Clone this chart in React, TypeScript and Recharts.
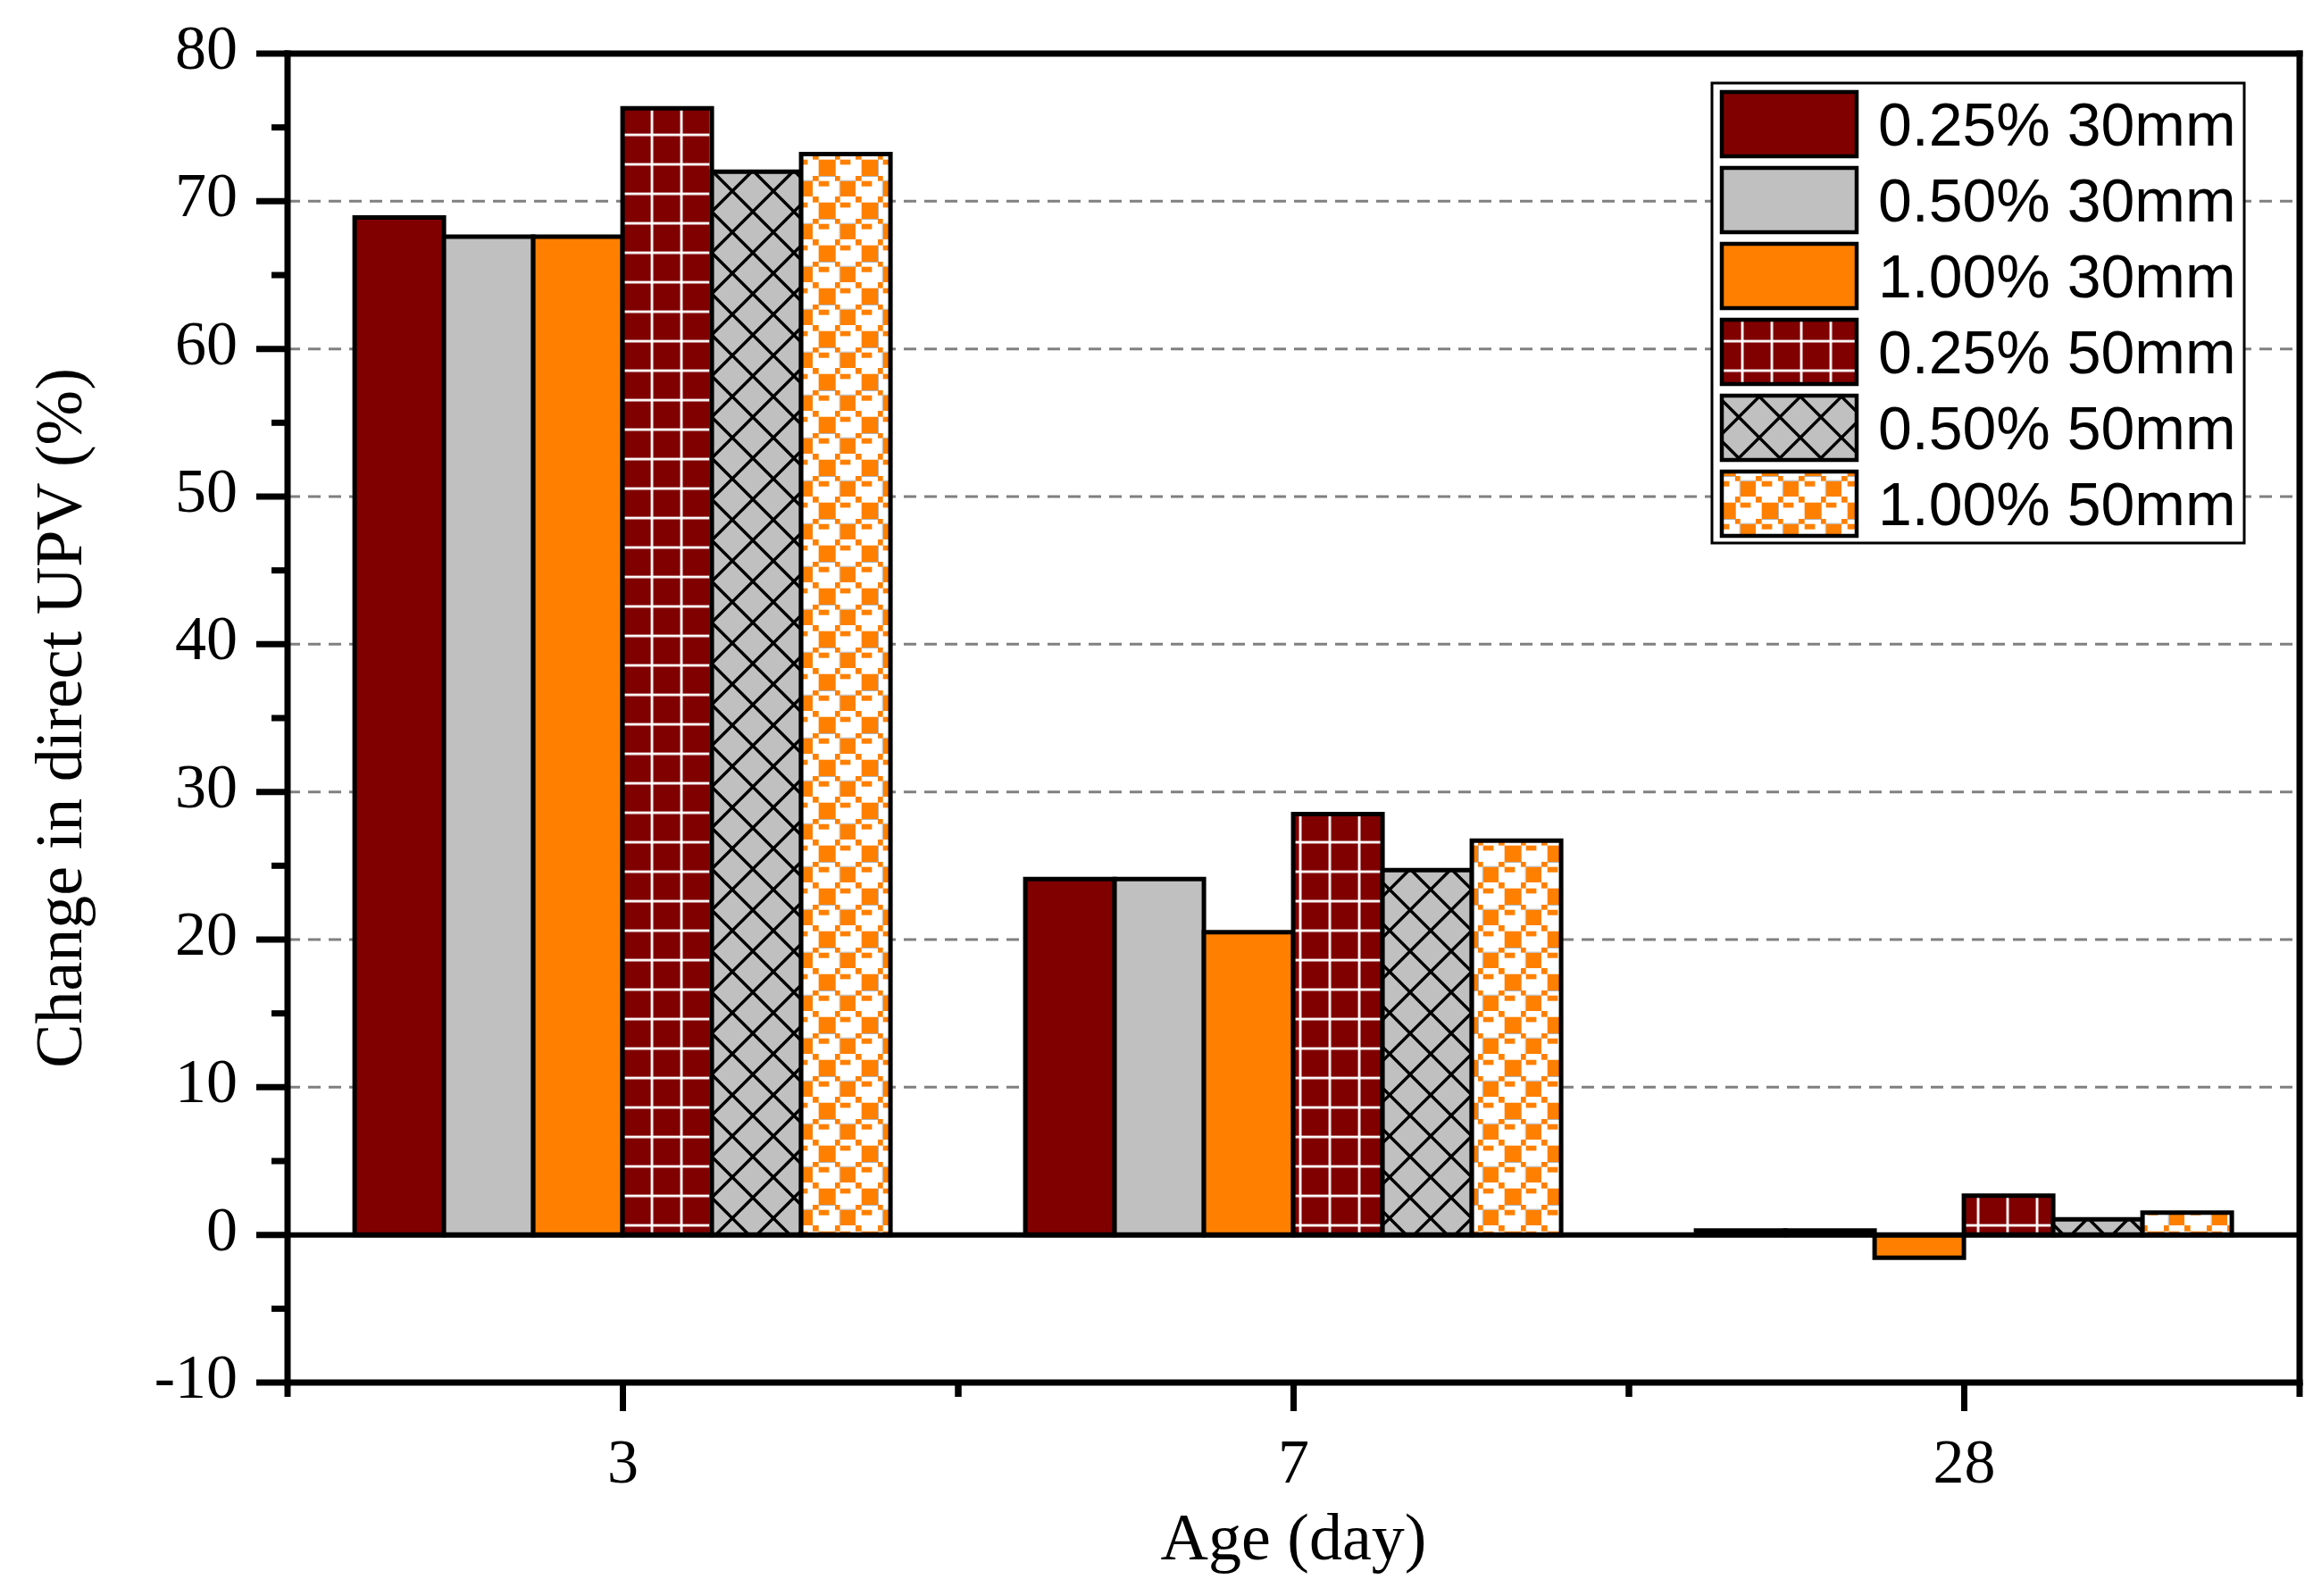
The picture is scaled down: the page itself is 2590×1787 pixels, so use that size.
import React from 'react';
import { BarChart, Bar, XAxis, YAxis, CartesianGrid, ReferenceLine } from 'recharts';

// ---------- data ----------
const ages = ['3', '7', '28'];
const fiber025_30 = [68.9, 24.1, 0.3];
const fiber050_30 = [67.6, 24.1, 0.3];
const fiber100_30 = [67.6, 20.5, -1.55];
const fiber025_50 = [76.3, 28.5, 2.65];
const fiber050_50 = [72.0, 24.7, 1.05];
const fiber100_50 = [73.2, 26.7, 1.5];
const seriesNames = ['0.25% 30mm', '0.50% 30mm', '1.00% 30mm', '0.25% 50mm', '0.50% 50mm', '1.00% 50mm'];
const yTicks = [-10, -5, 0, 5, 10, 15, 20, 25, 30, 35, 40, 45, 50, 55, 60, 65, 70, 75, 80];
const gridValues = [10, 20, 30, 40, 50, 60, 70];
const Y_MIN = -10;
const Y_MAX = 80;

// ---------- layout ----------
const W = 2590;
const H = 1787;
const PLOT_LEFT = 322;
const PLOT_TOP = 60;
const RIGHT_GAP = 15;
const PLOT_BOTTOM = 1548;
const HALF_BAND = (W - RIGHT_GAP - PLOT_LEFT) / ages.length / 2;

const ORANGE = '#FF8000';
const DARKRED = '#800000';
const GRAY = '#C0C0C0';

const seriesFills = [DARKRED, GRAY, ORANGE, 'url(#gridRed)', 'url(#crossGray)', 'url(#checkOrange)'];
const seriesValues = [fiber025_30, fiber050_30, fiber100_30, fiber025_50, fiber050_50, fiber100_50];
const seriesKeys = ['s1', 's2', 's3', 's4', 's5', 's6'];

const data = ages.map((age, i) => {
  const row: any = { age };
  seriesKeys.forEach((k, j) => {
    row[k] = seriesValues[j][i];
  });
  return row;
});

const SERIF = '"Liberation Serif", "Times New Roman", serif';
const SANS = '"Liberation Sans", Arial, sans-serif';

const YTick = (props: any) => {
  const { x, y, payload } = props;
  const major = payload.value % 10 === 0;
  return (
    <g>
      <line x1={x - (major ? 35 : 18)} x2={x} y1={y} y2={y} stroke="#000" strokeWidth={7} />
      {major && (
        <text x={x - 56} y={y + 17} textAnchor="end" fontFamily={SERIF} fontSize={70} fill="#000">
          {payload.value}
        </text>
      )}
    </g>
  );
};

const XTick = (props: any) => {
  const { x, y, payload } = props;
  return (
    <g>
      <line x1={x} x2={x} y1={y} y2={y + 32} stroke="#000" strokeWidth={7} />
      <line x1={x - HALF_BAND} x2={x - HALF_BAND} y1={y} y2={y + 16} stroke="#000" strokeWidth={7} />
      <line x1={x + HALF_BAND} x2={x + HALF_BAND} y1={y} y2={y + 16} stroke="#000" strokeWidth={7} />
      <text x={x} y={y + 112} textAnchor="middle" fontFamily={SERIF} fontSize={70} fill="#000">
        {payload.value}
      </text>
    </g>
  );
};

const Patterns = () => (
  <defs>
    <pattern id="gridRed" patternUnits="userSpaceOnUse" x={728.6} y={512.6} width={33} height={33}>
      <rect x={0} y={0} width={33} height={33} fill={DARKRED} />
      <rect x={0} y={0} width={2.8} height={33} fill="#fff" />
      <rect x={0} y={0} width={33} height={2.8} fill="#fff" />
    </pattern>
    <pattern id="crossGray" patternUnits="userSpaceOnUse" x={843} y={513} width={46} height={46}>
      <rect x={0} y={0} width={46} height={46} fill={GRAY} />
      <g stroke="#000" strokeWidth={3.4}>
        <line x1={-10} y1={-10} x2={56} y2={56} />
        <line x1={-10} y1={36} x2={10} y2={56} />
        <line x1={36} y1={-10} x2={56} y2={10} />
        <line x1={56} y1={-10} x2={-10} y2={56} />
        <line x1={-10} y1={10} x2={10} y2={-10} />
        <line x1={36} y1={56} x2={56} y2={36} />
      </g>
    </pattern>
    <pattern id="checkOrange" patternUnits="userSpaceOnUse" x={910} y={508} width={48} height={48}>
      <rect x={0} y={0} width={48} height={48} fill="#fff" />
      <g fill={ORANGE}>
        <rect x={0} y={0} width={6.7} height={6.7} />
        <rect x={25} y={0} width={5.7} height={6.7} />
        <rect x={0} y={25} width={6.7} height={5.7} />
        <rect x={25} y={25} width={5.7} height={5.7} />
        <rect x={6.7} y={6.7} width={18.3} height={18.3} />
        <rect x={30.7} y={30.7} width={17.3} height={17.3} />
        <rect x={30.7} y={6.7} width={11.7} height={5.7} />
        <rect x={6.7} y={30.7} width={11.7} height={6} />
      </g>
      <g stroke="#b4b4b4" strokeWidth={1}>
        <line x1={25.5} y1={6.7} x2={25.5} y2={25} />
        <line x1={6.7} y1={25.5} x2={25} y2={25.5} />
        <line x1={30.2} y1={30.7} x2={30.2} y2={48} />
        <line x1={30.7} y1={30.2} x2={48} y2={30.2} />
      </g>
    </pattern>
  </defs>
);

const LegendBox = () => (
  <g>
    <rect x={1917} y={93} width={596} height={515} fill="#fff" stroke="#000" strokeWidth={3} />
    {seriesNames.map((name, i) => (
      <g key={name}>
        <rect x={1928} y={103 + i * 85} width={151} height={72} fill={seriesFills[i]} stroke="#000" strokeWidth={4.5} />
        <text x={2103} y={163 + i * 85} fontFamily={SANS} fontSize={68} fill="#000">
          {name}
        </text>
      </g>
    ))}
  </g>
);

const gridGenerator = ({ offset }: any) =>
  gridValues.map((v) => offset.top + (offset.height * (Y_MAX - v)) / (Y_MAX - Y_MIN));

export default function App() {
  return (
    <div style={{ position: 'absolute', left: 0, top: 0, width: W, height: H, background: '#fff' }}>
      <BarChart
        width={W}
        height={H}
        data={data}
        margin={{ top: PLOT_TOP, right: 0, bottom: 0, left: 0 }}
        barCategoryGap="10%"
        barGap={0}
      >
        <Patterns />
        <CartesianGrid
          vertical={false}
          stroke="#808080"
          strokeWidth={3}
          strokeDasharray="14 9"
          yAxisId="left"
          horizontalCoordinatesGenerator={gridGenerator}
        />
        <XAxis
          dataKey="age"
          height={H - PLOT_BOTTOM}
          interval={0}
          tickLine={false}
          tickSize={0}
          tickMargin={0}
          tick={<XTick />}
          axisLine={{ stroke: '#000', strokeWidth: 7, strokeLinecap: 'square' }}
        />
        <YAxis
          yAxisId="left"
          width={PLOT_LEFT}
          domain={[Y_MIN, Y_MAX]}
          ticks={yTicks}
          interval={0}
          tickLine={false}
          tickSize={0}
          tickMargin={0}
          tick={<YTick />}
          axisLine={{ stroke: '#000', strokeWidth: 7, strokeLinecap: 'square' }}
        />
        <YAxis
          yAxisId="right"
          orientation="right"
          width={RIGHT_GAP}
          domain={[Y_MIN, Y_MAX]}
          tick={false}
          tickLine={false}
          axisLine={{ stroke: '#000', strokeWidth: 7, strokeLinecap: 'square' }}
        />
        {seriesKeys.map((k, j) => (
          <Bar
            key={k}
            yAxisId="left"
            dataKey={k}
            name={seriesNames[j]}
            fill={seriesFills[j]}
            stroke="#000"
            strokeWidth={5}
            isAnimationActive={false}
          />
        ))}
        <ReferenceLine yAxisId="left" y={0} stroke="#000" strokeWidth={6} />
        <ReferenceLine yAxisId="left" y={Y_MAX} stroke="#000" strokeWidth={7} strokeLinecap="square" />
        <text
          transform="rotate(-90)"
          x={-(PLOT_TOP + PLOT_BOTTOM) / 2}
          y={91}
          textAnchor="middle"
          fontFamily={SERIF}
          fontSize={74}
          fill="#000"
        >
          Change in direct UPV (%)
        </text>
        <text x={(PLOT_LEFT + W - RIGHT_GAP) / 2} y={1746} textAnchor="middle" fontFamily={SERIF} fontSize={74} fill="#000">
          Age (day)
        </text>
        <LegendBox />
      </BarChart>
    </div>
  );
}
